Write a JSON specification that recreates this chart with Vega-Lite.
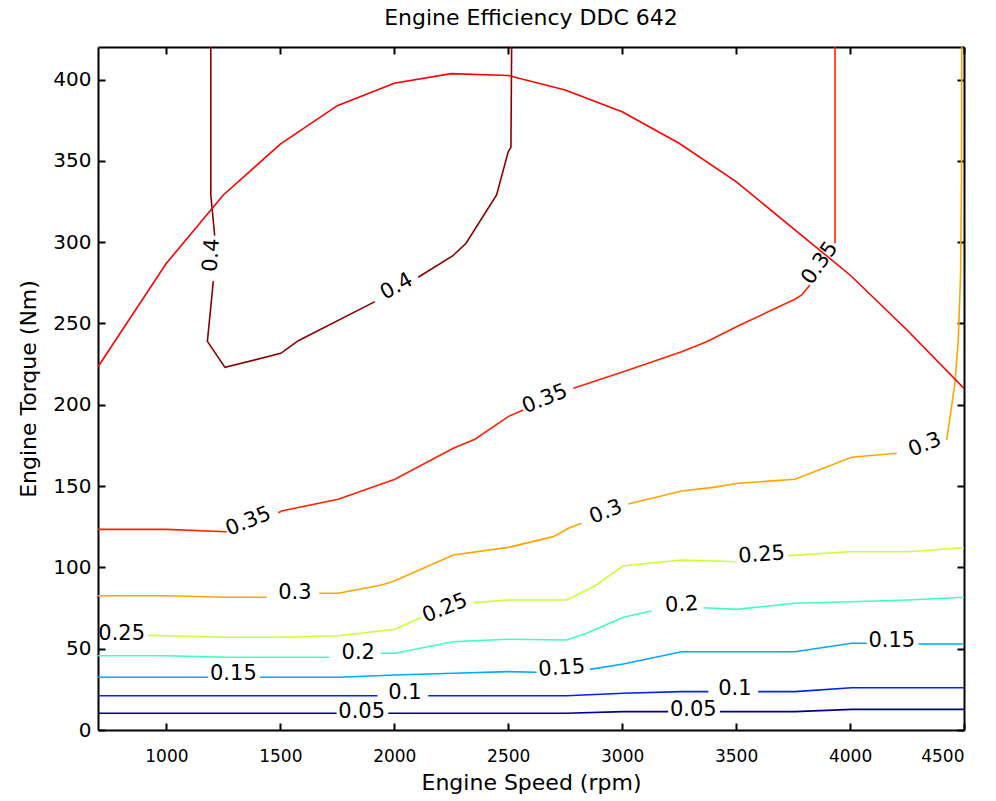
{
  "$schema": "https://vega.github.io/schema/vega-lite/v6.json",
  "width": 866,
  "height": 683,
  "autosize": "none",
  "padding": {"left": 98, "top": 47, "right": 32, "bottom": 71},
  "background": "white",
  "config": {
    "font": "DejaVu Sans",
    "view": {"stroke": null},
    "axis": {
      "domainColor": "black", "domainWidth": 2,
      "tickColor": "black", "tickWidth": 2, "tickSize": -7,
      "labelColor": "black", "labelFont": "DejaVu Sans", "labelFontSize": 18,
      "titleColor": "black", "titleFont": "DejaVu Sans", "titleFontSize": 22, "titleFontWeight": "normal",
      "grid": false
    }
  },
  "title": {"text": "Engine Efficiency DDC 642", "font": "DejaVu Sans", "fontSize": 22, "fontWeight": "normal", "color": "black", "offset": 16, "anchor": "middle"},
  "datasets": {
    "lines": [
      {"level": "0.4", "seg": "4a", "rpm": 1195, "torque": 420},
      {"level": "0.4", "seg": "4a", "rpm": 1195, "torque": 329},
      {"level": "0.4", "seg": "4a", "rpm": 1212, "torque": 304},
      {"level": "0.4", "seg": "4b", "rpm": 1206, "torque": 276},
      {"level": "0.4", "seg": "4b", "rpm": 1180, "torque": 239},
      {"level": "0.4", "seg": "4b", "rpm": 1257, "torque": 223},
      {"level": "0.4", "seg": "4b", "rpm": 1502, "torque": 231.6},
      {"level": "0.4", "seg": "4b", "rpm": 1579, "torque": 239.4},
      {"level": "0.4", "seg": "4b", "rpm": 1915, "torque": 263.4},
      {"level": "0.4", "seg": "4c", "rpm": 2105, "torque": 278.4},
      {"level": "0.4", "seg": "4c", "rpm": 2256, "torque": 291.5},
      {"level": "0.4", "seg": "4c", "rpm": 2315, "torque": 299.3},
      {"level": "0.4", "seg": "4c", "rpm": 2449, "torque": 329},
      {"level": "0.4", "seg": "4c", "rpm": 2500, "torque": 355.6},
      {"level": "0.4", "seg": "4c", "rpm": 2512, "torque": 358.3},
      {"level": "0.4", "seg": "4c", "rpm": 2515, "torque": 420},

      {"level": "0.35", "seg": "35a", "rpm": 700, "torque": 123.4},
      {"level": "0.35", "seg": "35a", "rpm": 1000, "torque": 123.4},
      {"level": "0.35", "seg": "35a", "rpm": 1265, "torque": 121.9},
      {"level": "0.35", "seg": "35b", "rpm": 1491, "torque": 133.6},
      {"level": "0.35", "seg": "35b", "rpm": 1506, "torque": 134.7},
      {"level": "0.35", "seg": "35b", "rpm": 1754, "torque": 141.9},
      {"level": "0.35", "seg": "35b", "rpm": 2003, "torque": 154.2},
      {"level": "0.35", "seg": "35b", "rpm": 2259, "torque": 173.2},
      {"level": "0.35", "seg": "35b", "rpm": 2354, "torque": 178.8},
      {"level": "0.35", "seg": "35b", "rpm": 2500, "torque": 192.7},
      {"level": "0.35", "seg": "35b", "rpm": 2566, "torque": 196.8},
      {"level": "0.35", "seg": "35c", "rpm": 2786, "torque": 210.1},
      {"level": "0.35", "seg": "35c", "rpm": 3005, "torque": 220.3},
      {"level": "0.35", "seg": "35c", "rpm": 3261, "torque": 232.6},
      {"level": "0.35", "seg": "35c", "rpm": 3371, "torque": 238.8},
      {"level": "0.35", "seg": "35c", "rpm": 3517, "torque": 249},
      {"level": "0.35", "seg": "35c", "rpm": 3758, "torque": 264.9},
      {"level": "0.35", "seg": "35c", "rpm": 3788, "torque": 267.5},
      {"level": "0.35", "seg": "35c", "rpm": 3824, "torque": 273.6},
      {"level": "0.35", "seg": "35d", "rpm": 3934, "torque": 299.3},
      {"level": "0.35", "seg": "35d", "rpm": 3934, "torque": 420},

      {"level": "0.3", "seg": "3a", "rpm": 700, "torque": 82.6},
      {"level": "0.3", "seg": "3a", "rpm": 1000, "torque": 82.6},
      {"level": "0.3", "seg": "3a", "rpm": 1265, "torque": 81.6},
      {"level": "0.3", "seg": "3a", "rpm": 1440, "torque": 81.6},
      {"level": "0.3", "seg": "3b", "rpm": 1671, "torque": 84.1},
      {"level": "0.3", "seg": "3b", "rpm": 1754, "torque": 84.1},
      {"level": "0.3", "seg": "3b", "rpm": 1945, "torque": 89.2},
      {"level": "0.3", "seg": "3b", "rpm": 2000, "torque": 91.6},
      {"level": "0.3", "seg": "3b", "rpm": 2259, "torque": 107.6},
      {"level": "0.3", "seg": "3b", "rpm": 2500, "torque": 112.3},
      {"level": "0.3", "seg": "3b", "rpm": 2698, "torque": 118.9},
      {"level": "0.3", "seg": "3b", "rpm": 2764, "torque": 124},
      {"level": "0.3", "seg": "3b", "rpm": 2822, "torque": 127.1},
      {"level": "0.3", "seg": "3c", "rpm": 3027, "torque": 139},
      {"level": "0.3", "seg": "3c", "rpm": 3261, "torque": 147},
      {"level": "0.3", "seg": "3c", "rpm": 3400, "torque": 149.2},
      {"level": "0.3", "seg": "3c", "rpm": 3510, "torque": 151.7},
      {"level": "0.3", "seg": "3c", "rpm": 3758, "torque": 154.2},
      {"level": "0.3", "seg": "3c", "rpm": 4007, "torque": 167.7},
      {"level": "0.3", "seg": "3c", "rpm": 4205, "torque": 170.2},
      {"level": "0.3", "seg": "3d", "rpm": 4424, "torque": 178.3},
      {"level": "0.3", "seg": "3d", "rpm": 4460, "torque": 213},
      {"level": "0.3", "seg": "3d", "rpm": 4475, "torque": 240},
      {"level": "0.3", "seg": "3d", "rpm": 4485, "torque": 280},
      {"level": "0.3", "seg": "3d", "rpm": 4489, "torque": 340},
      {"level": "0.3", "seg": "3d", "rpm": 4490, "torque": 420},

      {"level": "0.25", "seg": "25a", "rpm": 920, "torque": 58.2},
      {"level": "0.25", "seg": "25a", "rpm": 1000, "torque": 58},
      {"level": "0.25", "seg": "25a", "rpm": 1265, "torque": 57},
      {"level": "0.25", "seg": "25a", "rpm": 1502, "torque": 57},
      {"level": "0.25", "seg": "25a", "rpm": 1754, "torque": 58},
      {"level": "0.25", "seg": "25a", "rpm": 2003, "torque": 61.9},
      {"level": "0.25", "seg": "25a", "rpm": 2120, "torque": 69.3},
      {"level": "0.25", "seg": "25b", "rpm": 2347, "torque": 78.3},
      {"level": "0.25", "seg": "25b", "rpm": 2500, "torque": 79.9},
      {"level": "0.25", "seg": "25b", "rpm": 2756, "torque": 79.9},
      {"level": "0.25", "seg": "25b", "rpm": 2881, "torque": 88.7},
      {"level": "0.25", "seg": "25b", "rpm": 3005, "torque": 101},
      {"level": "0.25", "seg": "25b", "rpm": 3261, "torque": 104.5},
      {"level": "0.25", "seg": "25b", "rpm": 3502, "torque": 103.5},
      {"level": "0.25", "seg": "25c", "rpm": 3729, "torque": 107.2},
      {"level": "0.25", "seg": "25c", "rpm": 4000, "torque": 109.6},
      {"level": "0.25", "seg": "25c", "rpm": 4256, "torque": 109.6},
      {"level": "0.25", "seg": "25c", "rpm": 4500, "torque": 112.1},

      {"level": "0.2", "seg": "2a", "rpm": 700, "torque": 45.7},
      {"level": "0.2", "seg": "2a", "rpm": 1000, "torque": 45.7},
      {"level": "0.2", "seg": "2a", "rpm": 1265, "torque": 44.7},
      {"level": "0.2", "seg": "2a", "rpm": 1715, "torque": 44.7},
      {"level": "0.2", "seg": "2b", "rpm": 1941, "torque": 47.2},
      {"level": "0.2", "seg": "2b", "rpm": 2003, "torque": 47.2},
      {"level": "0.2", "seg": "2b", "rpm": 2259, "torque": 54.3},
      {"level": "0.2", "seg": "2b", "rpm": 2500, "torque": 55.8},
      {"level": "0.2", "seg": "2b", "rpm": 2756, "torque": 55.3},
      {"level": "0.2", "seg": "2b", "rpm": 2844, "torque": 59.5},
      {"level": "0.2", "seg": "2b", "rpm": 3005, "torque": 69.3},
      {"level": "0.2", "seg": "2b", "rpm": 3129, "torque": 73.2},
      {"level": "0.2", "seg": "2c", "rpm": 3356, "torque": 75.2},
      {"level": "0.2", "seg": "2c", "rpm": 3502, "torque": 74.2},
      {"level": "0.2", "seg": "2c", "rpm": 3758, "torque": 77.9},
      {"level": "0.2", "seg": "2c", "rpm": 4007, "torque": 78.9},
      {"level": "0.2", "seg": "2c", "rpm": 4256, "torque": 79.9},
      {"level": "0.2", "seg": "2c", "rpm": 4500, "torque": 81.6},

      {"level": "0.15", "seg": "15a", "rpm": 700, "torque": 32.4},
      {"level": "0.15", "seg": "15a", "rpm": 1000, "torque": 32.4},
      {"level": "0.15", "seg": "15a", "rpm": 1184, "torque": 32.4},
      {"level": "0.15", "seg": "15b", "rpm": 1411, "torque": 32.4},
      {"level": "0.15", "seg": "15b", "rpm": 1754, "torque": 32.4},
      {"level": "0.15", "seg": "15b", "rpm": 2003, "torque": 33.8},
      {"level": "0.15", "seg": "15b", "rpm": 2259, "torque": 34.9},
      {"level": "0.15", "seg": "15b", "rpm": 2500, "torque": 35.9},
      {"level": "0.15", "seg": "15b", "rpm": 2625, "torque": 35.5},
      {"level": "0.15", "seg": "15c", "rpm": 2859, "torque": 37.3},
      {"level": "0.15", "seg": "15c", "rpm": 3005, "torque": 40.6},
      {"level": "0.15", "seg": "15c", "rpm": 3261, "torque": 48.1},
      {"level": "0.15", "seg": "15c", "rpm": 3758, "torque": 48.1},
      {"level": "0.15", "seg": "15c", "rpm": 4007, "torque": 53.3},
      {"level": "0.15", "seg": "15c", "rpm": 4073, "torque": 53.3},
      {"level": "0.15", "seg": "15d", "rpm": 4300, "torque": 52.9},
      {"level": "0.15", "seg": "15d", "rpm": 4500, "torque": 52.9},

      {"level": "0.1", "seg": "1a", "rpm": 700, "torque": 21.1},
      {"level": "0.1", "seg": "1a", "rpm": 1926, "torque": 21.1},
      {"level": "0.1", "seg": "1b", "rpm": 2149, "torque": 21.1},
      {"level": "0.1", "seg": "1b", "rpm": 2756, "torque": 21.1},
      {"level": "0.1", "seg": "1b", "rpm": 3005, "torque": 22.6},
      {"level": "0.1", "seg": "1b", "rpm": 3261, "torque": 23.6},
      {"level": "0.1", "seg": "1b", "rpm": 3378, "torque": 23.6},
      {"level": "0.1", "seg": "1c", "rpm": 3597, "torque": 23.6},
      {"level": "0.1", "seg": "1c", "rpm": 3758, "torque": 23.6},
      {"level": "0.1", "seg": "1c", "rpm": 4007, "torque": 26},
      {"level": "0.1", "seg": "1c", "rpm": 4500, "torque": 26},

      {"level": "0.05", "seg": "05a", "rpm": 700, "torque": 10.3},
      {"level": "0.05", "seg": "05a", "rpm": 1747, "torque": 10.3},
      {"level": "0.05", "seg": "05b", "rpm": 1974, "torque": 10.3},
      {"level": "0.05", "seg": "05b", "rpm": 2756, "torque": 10.3},
      {"level": "0.05", "seg": "05b", "rpm": 3005, "torque": 11.3},
      {"level": "0.05", "seg": "05b", "rpm": 3202, "torque": 11.3},
      {"level": "0.05", "seg": "05c", "rpm": 3429, "torque": 11.3},
      {"level": "0.05", "seg": "05c", "rpm": 3758, "torque": 11.3},
      {"level": "0.05", "seg": "05c", "rpm": 4007, "torque": 12.7},
      {"level": "0.05", "seg": "05c", "rpm": 4500, "torque": 12.7}
    ],
    "envelope": [
      {"rpm": 700, "torque": 223.4},
      {"rpm": 1000, "torque": 287},
      {"rpm": 1250, "torque": 329},
      {"rpm": 1500, "torque": 360.3},
      {"rpm": 1750, "torque": 383.9},
      {"rpm": 2000, "torque": 397.7},
      {"rpm": 2250, "torque": 403.6},
      {"rpm": 2500, "torque": 402.5},
      {"rpm": 2750, "torque": 393.6},
      {"rpm": 3000, "torque": 380.2},
      {"rpm": 3250, "torque": 360.8},
      {"rpm": 3500, "torque": 337.2},
      {"rpm": 3750, "torque": 308.5},
      {"rpm": 4000, "torque": 279.8},
      {"rpm": 4250, "torque": 246},
      {"rpm": 4500, "torque": 210.1}
    ],
    "labels": [
      {"id": "L1", "text": "0.4", "rpm": 1199, "torque": 292},
      {"id": "L2", "text": "0.4", "rpm": 2011, "torque": 272.6},
      {"id": "L3", "text": "0.35", "rpm": 3868, "torque": 287},
      {"id": "L4", "text": "0.35", "rpm": 2661, "torque": 203.5},
      {"id": "L5", "text": "0.35", "rpm": 1360, "torque": 128.1},
      {"id": "L6", "text": "0.3", "rpm": 1564, "torque": 84.1},
      {"id": "L7", "text": "0.3", "rpm": 2929, "torque": 134},
      {"id": "L8", "text": "0.3", "rpm": 4329, "torque": 175.3},
      {"id": "L9", "text": "0.25", "rpm": 804, "torque": 59},
      {"id": "L10", "text": "0.25", "rpm": 2223, "torque": 74.8},
      {"id": "L11", "text": "0.25", "rpm": 3612, "torque": 107.6},
      {"id": "L12", "text": "0.2", "rpm": 1842, "torque": 47.5},
      {"id": "L13", "text": "0.2", "rpm": 3261, "torque": 76.9},
      {"id": "L14", "text": "0.15", "rpm": 1294, "torque": 34.4},
      {"id": "L15", "text": "0.15", "rpm": 2735, "torque": 37.9},
      {"id": "L16", "text": "0.15", "rpm": 4183, "torque": 54.9},
      {"id": "L17", "text": "0.1", "rpm": 2047, "torque": 22.6},
      {"id": "L18", "text": "0.1", "rpm": 3495, "torque": 25},
      {"id": "L19", "text": "0.05", "rpm": 1857, "torque": 11.3},
      {"id": "L20", "text": "0.05", "rpm": 3312, "torque": 12.3}
    ]
  },
  "encoding": {
    "x": {"field": "rpm", "type": "quantitative", "scale": {"domain": [700, 4500], "nice": false, "zero": false}},
    "y": {"field": "torque", "type": "quantitative", "scale": {"domain": [0, 420], "nice": false, "zero": false}}
  },
  "layer": [
    {
      "data": {"name": "lines"},
      "mark": {"type": "line", "strokeWidth": 1.6, "clip": true},
      "encoding": {
        "x": {"field": "rpm", "type": "quantitative", "axis": {"orient": "bottom", "title": "Engine Speed (rpm)", "format": "d", "labelFontSize": 17, "values": [1000, 1500, 2000, 2500, 3000, 3500, 4000, 4500], "labelPadding": 25, "titlePadding": 8}},
        "y": {"field": "torque", "type": "quantitative", "axis": {"orient": "left", "title": "Engine Torque (Nm)", "format": "d", "labelFontSize": 20, "values": [0, 50, 100, 150, 200, 250, 300, 350, 400], "labelPadding": 14, "titlePadding": 12}},
        "color": {"field": "level", "type": "nominal", "legend": null,
          "scale": {"domain": ["0.05", "0.1", "0.15", "0.2", "0.25", "0.3", "0.35", "0.4"],
                    "range": ["#00008F", "#0022FF", "#00AAFF", "#40FFC0", "#C8FF36", "#FFA500", "#FF2200", "#8B0000"]}},
        "detail": {"field": "seg", "type": "nominal"},
        "order": {"value": null}
      }
    },
    {
      "data": {"name": "envelope"},
      "mark": {"type": "line", "strokeWidth": 1.6, "color": "#FF0000", "clip": true},
      "encoding": {
        "x": {"field": "rpm", "type": "quantitative", "axis": {"orient": "top", "title": null, "labels": false, "values": [1000, 1500, 2000, 2500, 3000, 3500, 4000, 4500]}},
        "y": {"field": "torque", "type": "quantitative", "axis": {"orient": "right", "title": null, "labels": false, "values": [0, 50, 100, 150, 200, 250, 300, 350, 400]}},
        "order": {"value": null}
      }
    },
    {
      "data": {"name": "labels"},
      "transform": [{"filter": {"field": "id", "oneOf": ["L6", "L9", "L12", "L14", "L16", "L17", "L18", "L19", "L20"]}}],
      "mark": {"type": "text", "fontSize": 21, "font": "DejaVu Sans", "color": "black", "align": "center", "baseline": "middle", "angle": 0},
      "encoding": {"x": {"field": "rpm", "type": "quantitative", "axis": null}, "y": {"field": "torque", "type": "quantitative", "axis": null}, "text": {"field": "text"}}
    },
    {
      "data": {"name": "labels"},
      "transform": [{"filter": {"field": "id", "oneOf": ["L11", "L13", "L15"]}}],
      "mark": {"type": "text", "fontSize": 21, "font": "DejaVu Sans", "color": "black", "align": "center", "baseline": "middle", "angle": -4},
      "encoding": {"x": {"field": "rpm", "type": "quantitative", "axis": null}, "y": {"field": "torque", "type": "quantitative", "axis": null}, "text": {"field": "text"}}
    },
    {
      "data": {"name": "labels"},
      "transform": [{"filter": {"field": "id", "oneOf": ["L4", "L5", "L7", "L8", "L10"]}}],
      "mark": {"type": "text", "fontSize": 21, "font": "DejaVu Sans", "color": "black", "align": "center", "baseline": "middle", "angle": -22},
      "encoding": {"x": {"field": "rpm", "type": "quantitative", "axis": null}, "y": {"field": "torque", "type": "quantitative", "axis": null}, "text": {"field": "text"}}
    },
    {
      "data": {"name": "labels"},
      "transform": [{"filter": {"field": "id", "oneOf": ["L2"]}}],
      "mark": {"type": "text", "fontSize": 21, "font": "DejaVu Sans", "color": "black", "align": "center", "baseline": "middle", "angle": -29},
      "encoding": {"x": {"field": "rpm", "type": "quantitative", "axis": null}, "y": {"field": "torque", "type": "quantitative", "axis": null}, "text": {"field": "text"}}
    },
    {
      "data": {"name": "labels"},
      "transform": [{"filter": {"field": "id", "oneOf": ["L3"]}}],
      "mark": {"type": "text", "fontSize": 21, "font": "DejaVu Sans", "color": "black", "align": "center", "baseline": "middle", "angle": -55},
      "encoding": {"x": {"field": "rpm", "type": "quantitative", "axis": null}, "y": {"field": "torque", "type": "quantitative", "axis": null}, "text": {"field": "text"}}
    },
    {
      "data": {"name": "labels"},
      "transform": [{"filter": {"field": "id", "oneOf": ["L1"]}}],
      "mark": {"type": "text", "fontSize": 21, "font": "DejaVu Sans", "color": "black", "align": "center", "baseline": "middle", "angle": -86},
      "encoding": {"x": {"field": "rpm", "type": "quantitative", "axis": null}, "y": {"field": "torque", "type": "quantitative", "axis": null}, "text": {"field": "text"}}
    }
  ],
  "resolve": {"axis": {"x": "independent", "y": "independent"}}
}
